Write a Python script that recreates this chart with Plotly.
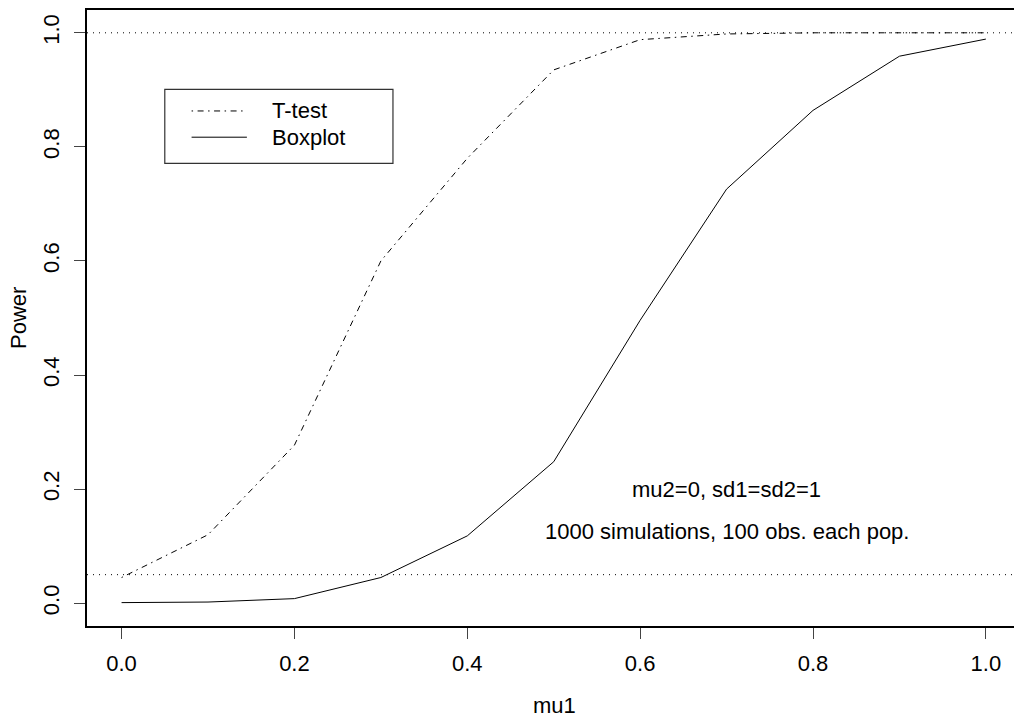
import plotly.graph_objects as go

mu1 = [0.0, 0.1, 0.2, 0.3, 0.4, 0.5, 0.6, 0.7, 0.8, 0.9, 1.0]
ttest_power = [0.045, 0.12, 0.277, 0.60, 0.78, 0.935, 0.988, 0.998, 1.0, 1.0, 1.0]
boxplot_power = [0.001, 0.002, 0.008, 0.045, 0.118, 0.248, 0.496, 0.726, 0.864, 0.959, 0.989]
ref_levels = [1.0, 0.05]
series_names = ["T-test", "Boxplot"]
tick_vals = [0.0, 0.2, 0.4, 0.6, 0.8, 1.0]
tick_text = ["0.0", "0.2", "0.4", "0.6", "0.8", "1.0"]

FONT = "Liberation Sans, Arial, Helvetica, sans-serif"
FS = 22
DOTDASH = "1.5px,4.5px,6px,4.5px"
DOT = "1px,5px"

ML, MT, PW, PH = 87, 10, 927, 616
W, H = 1014, 718

fig = go.Figure()
fig.add_trace(go.Scatter(x=mu1, y=ttest_power, mode="lines", name=series_names[0],
                         line=dict(color="black", width=1, dash=DOTDASH), showlegend=False))
fig.add_trace(go.Scatter(x=mu1, y=boxplot_power, mode="lines", name=series_names[1],
                         line=dict(color="black", width=1), showlegend=False))

for lv in ref_levels:
    fig.add_shape(type="line", xref="paper", yref="y", x0=0, x1=1.01, y0=lv, y1=lv,
                  line=dict(color="black", width=1, dash=DOT))

# legend box (drawn R-style)
fig.add_shape(type="rect", xref="x", yref="y", x0=0.05, x1=0.314, y0=0.771, y1=0.901,
              line=dict(color="#333333", width=1.2), fillcolor="rgba(0,0,0,0)")
leg_y = [0.863, 0.817]
dashes = [DOTDASH, "solid"]
for name, yy, ds in zip(series_names, leg_y, dashes):
    fig.add_shape(type="line", xref="x", yref="y", x0=0.081, x1=0.145, y0=yy, y1=yy,
                  line=dict(color="black", width=1, dash=ds))
    fig.add_annotation(x=0.172, y=yy, xref="x", yref="y", text=name, showarrow=False,
                       xanchor="left", yanchor="middle", font=dict(family=FONT, size=FS, color="black"))

fig.add_annotation(x=0.7, y=0.2, xref="x", yref="y", text="mu2=0, sd1=sd2=1", showarrow=False,
                   font=dict(family=FONT, size=FS, color="black"))
fig.add_annotation(x=0.7, y=0.126, xref="x", yref="y", text="1000 simulations, 100 obs. each pop.",
                   showarrow=False, font=dict(family=FONT, size=FS, color="black"))

# axis titles
fig.add_annotation(x=(554 - ML) / PW, y=-79 / PH, xref="paper", yref="paper", text="mu1",
                   showarrow=False, xanchor="center", yanchor="middle",
                   font=dict(family=FONT, size=FS, color="black"))
fig.add_annotation(x=-69 / PW, y=0.5, xref="paper", yref="paper", text="Power", textangle=-90,
                   showarrow=False, xanchor="center", yanchor="middle",
                   font=dict(family=FONT, size=FS, color="black"))

fig.update_layout(
    width=W, height=H,
    margin=dict(l=ML, r=W - ML - PW, t=MT, b=H - MT - PH, pad=0),
    paper_bgcolor="white", plot_bgcolor="white",
    font=dict(family=FONT, size=FS, color="black"),
)
fig.update_xaxes(range=[-0.04, -0.04 + PW / 864.3], showgrid=False, zeroline=False,
                 showline=True, mirror=True, linecolor="black", linewidth=2,
                 ticks="outside", ticklen=11, tickwidth=1, tickcolor="#444444",
                 ticklabelstandoff=6,
                 tickvals=tick_vals, ticktext=tick_text,
                 tickfont=dict(family=FONT, size=FS, color="black"))
fig.update_yaxes(range=[-0.04, 1.04], showgrid=False, zeroline=False,
                 showline=True, mirror=False, linecolor="black", linewidth=2,
                 ticks="outside", ticklen=11, tickwidth=1, tickcolor="#444444",
                 ticklabelstandoff=6,
                 tickvals=tick_vals, ticktext=tick_text, tickangle=-90,
                 tickfont=dict(family=FONT, size=FS, color="black"))

fig.write_html("out.html",
               config={"displayModeBar": False},
               post_script=("document.documentElement.style.margin='0';"
                            "document.documentElement.style.overflow='hidden';"
                            "document.body.style.margin='0';"
                            "document.body.style.overflow='hidden';"))
